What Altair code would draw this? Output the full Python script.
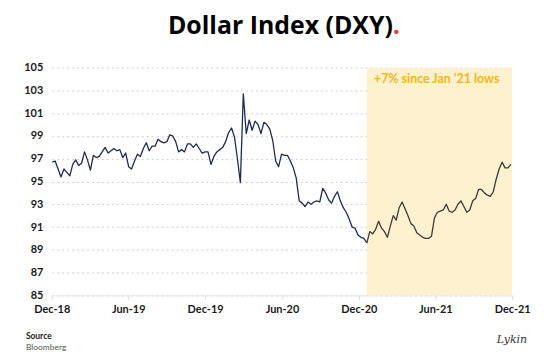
import altair as alt
import pandas as pd

# ---- data (weekly DXY readings) ----
start_date = "2018-12-21"
values = [
    96.7, 96.8, 96.1, 95.4, 96.1, 95.8, 95.5, 96.5, 96.9, 96.4, 96.6, 97.6, 96.9, 96.0,
    97.3, 97.1, 97.2, 97.6, 98.0, 97.5, 97.7, 97.9, 97.7, 97.8, 97.1, 97.5, 96.3, 96.1,
    96.8, 97.4, 97.2, 97.9, 98.4, 97.7, 98.1, 98.1, 98.7, 98.5, 98.4, 98.5, 99.1,
    99.0, 98.5, 97.6, 97.8, 97.6, 98.3, 98.3, 98.0, 98.3, 97.9, 97.5, 97.6, 97.6, 96.5,
    97.2, 97.6, 97.8, 98.0, 98.5, 99.3, 99.7, 98.9, 97.0, 94.9, 102.7, 99.2, 100.4, 99.5,
    100.3, 100.0, 99.2, 100.2, 100.0, 99.6, 98.6, 96.8, 96.3,
    97.4, 97.3, 97.3, 96.8, 96.2, 95.3, 93.3, 93.1, 92.8, 93.2, 93.0, 93.2, 93.3, 93.2,
    94.4, 94.0, 93.4, 93.1, 93.7, 94.1, 93.3, 92.7, 92.3, 91.7, 91.0, 90.9, 90.3, 90.1,
    90.0, 89.6,
    90.6, 90.4, 90.8, 91.5, 90.9, 90.6, 90.1, 91.1, 92.0, 91.6, 92.7, 93.2, 92.6, 92.0,
    91.3, 91.1, 90.5, 90.3, 90.1, 90.0, 90.0, 90.2, 91.8, 92.3, 92.4, 92.5, 93.0, 92.4,
    92.3, 92.5, 93.0, 93.3, 92.8, 92.3, 92.5, 93.3, 93.5, 94.3, 94.3, 94.0, 93.8, 93.7,
    94.1, 95.2, 96.1, 96.7, 96.2, 96.2, 96.5,
]
split_index = 107  # the January 2021 low
tick_labels_dates = [(2018, 12), (2019, 6), (2019, 12), (2020, 6), (2020, 12), (2021, 6), (2021, 12)]
y_ticks = [85, 87, 89, 91, 93, 95, 97, 99, 101, 103, 105]
shade_start = "2021-01-08"
shade_end = "2021-12-20"
annotation = "+7% since Jan \u201921 lows"
title_text = "Dollar Index (DXY)"
source_title = "Source"
source_name = "Bloomberg"
signature = "Lykin"

# ---- build table ----
dates = pd.date_range(start_date, periods=len(values), freq="7D")
rows = []
for i, (d, v) in enumerate(zip(dates, values)):
    if i <= split_index:
        rows.append({"date": d, "value": v, "segment": "before"})
    if i >= split_index:
        rows.append({"date": d, "value": v, "segment": "after"})
df = pd.DataFrame(rows)

shade_df = pd.DataFrame({"start": [pd.Timestamp(shade_start)], "end": [pd.Timestamp(shade_end)],
                         "top": [105], "bottom": [85]})

W, H = 463, 229
FONT = "Lato"

x_scale = alt.Scale(domain=[alt.DateTime(year=2018, month=12, date=20),
                            alt.DateTime(year=2021, month=12, date=20)])
y_scale = alt.Scale(domain=[85, 105], nice=False, zero=False)

x_axis = alt.Axis(
    values=[alt.DateTime(year=y, month=m, date=20) for y, m in tick_labels_dates],
    format="%b-%y", title=None, grid=False, labelFont=FONT, labelFontWeight="bold",
    labelFontSize=11, labelColor="#1a1a1a", domainColor="#e6e6e6", tickColor="#dddddd",
    tickSize=4, labelPadding=4, labelFlush=False,
)
y_axis = alt.Axis(
    values=y_ticks, title=None, grid=True, gridDash=[2, 3], gridColor="#cfcfcf",
    domain=False, ticks=False, labelFont=FONT, labelFontWeight="bold", labelFontSize=11,
    labelColor="#1a1a1a", labelPadding=9,
)

shade = alt.Chart(shade_df).mark_rect(color="#fef1cf").encode(
    x=alt.X("start:T", scale=x_scale, axis=x_axis),
    x2="end:T",
    y=alt.Y("top:Q", scale=y_scale, axis=y_axis),
    y2="bottom:Q",
)

line = alt.Chart(df).mark_line(strokeWidth=1.3, strokeJoin="round").encode(
    x=alt.X("date:T", scale=x_scale, axis=x_axis),
    y=alt.Y("value:Q", scale=y_scale, axis=y_axis),
    color=alt.Color("segment:N", scale=alt.Scale(domain=["before", "after"],
                                                 range=["#1f2a50", "#3b3a36"]), legend=None),
    detail="segment:N",
)

def label(text, x, y, size, color, weight="normal", align="left", font=FONT, style="normal"):
    return alt.Chart(pd.DataFrame({"t": [text]})).mark_text(
        align=align, baseline="middle", fontSize=size, font=font, fontWeight=weight,
        color=color, fontStyle=style,
    ).encode(text="t:N", x=alt.value(x), y=alt.value(y))

title = label(title_text, 343, -42, 25, "#000000", weight="bold", align="right", font="Open Sans")
dot = label(".", 343, -42, 25, "#e53935", weight="bold", align="left", font="Open Sans")
note = label(annotation, 324, 11, 12.5, "#f5b51c", weight="bold")
src1 = label(source_title, -26, 270, 8.5, "#1a1a1a", weight="bold")
src2 = label(source_name, -26, 281, 8.5, "#555555")
sig = label(signature, 478, 274, 11, "#333333", align="right", font="DejaVu Serif", style="italic")

chart = alt.layer(shade, line, title, dot, note, src1, src2, sig).properties(
    width=W, height=H,
    autosize=alt.AutoSizeParams(type="none"),
    padding={"left": 44, "top": 59, "right": 30, "bottom": 58},
    background="white",
).configure_view(stroke=None)

chart.save("out.html", embed_options={"renderer": "svg", "actions": False})
